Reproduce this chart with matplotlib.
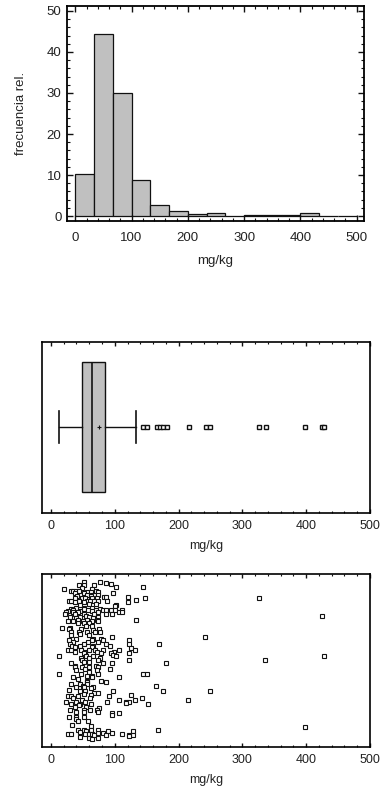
import numpy as np
import matplotlib.pyplot as plt
from matplotlib.ticker import MultipleLocator

plt.rcParams['font.family'] = ['Liberation Sans', 'DejaVu Sans']

# histogram: relative frequency (%) per bin, bins of 33.3 mg/kg from 0 to 500
bin_edges = np.linspace(0, 500, 16)
rel_freq = [10.3, 44.5, 30.1, 8.9, 2.7, 1.3, 0.4, 0.7, 0.0, 0.3, 0.3, 0.3, 0.7, 0.0, 0.0]

# box-and-whisker summary (mg/kg)
box_q1 = 48
box_median = 65
box_q3 = 84.6
box_mean = 76
whisker_low = 13
whisker_high = 133
outliers = [144.7, 150, 165.6, 170.8, 176, 181.3, 216, 242.4, 249, 326, 336.5, 398, 424, 428]

# scatter: rows of points (vertical jitter position, x values in mg/kg)
row_y = [96.5, 95.6, 95.0, 94.2, 93.4, 92.7, 91.9, 91.1, 90.3, 89.6, 88.8, 88.0, 87.3, 86.9,
         86.5, 85.7, 84.9, 84.2, 83.4, 82.6, 81.9, 81.1, 80.1, 79.5, 78.8, 78.2, 77.2, 76.3,
         75.7, 74.9, 73.7, 73.0, 71.8, 70.3, 69.1, 68.3, 67.6, 66.6, 65.6, 64.7, 63.7, 62.7,
         61.8, 60.8, 59.5, 58.3, 57.5, 56.9, 56.0, 55.0, 54.1, 53.1, 52.1, 51.2, 50.2, 49.0,
         47.9, 46.7, 45.9, 44.8, 44.0, 42.9, 41.5, 40.5, 39.6, 38.6, 37.6, 36.7, 35.7, 34.7,
         33.8, 33.2, 31.9, 31.3, 30.5, 29.9, 29.3, 28.6, 27.4, 26.1, 25.1, 24.5, 23.9, 23.2,
         22.2, 21.2, 20.3, 19.3, 18.3, 17.4, 16.0, 15.1, 13.5, 11.6, 10.6, 10.4, 8.7, 8.1,
         7.3, 6.8, 6.2, 5.4, 4.8, 4.2, 3.9, 3.5, 3.1]
row_x = [[52, 77], [86], [94], [44, 51, 68], [145, 102], [49], [20, 65], [31, 34, 40, 44, 70],
         [57, 62, 74], [97, 51, 38], [57, 64, 68, 73], [41, 62], [120, 83, 87], [147, 48, 72, 326],
         [37, 53, 65], [134], [29, 32, 44, 56, 61, 67, 74, 88], [120, 38, 52], [60, 71], [102, 45],
         [101], [39, 51, 64], [31, 52, 77], [35, 58, 71, 81, 87, 94, 101, 112], [27, 45, 64],
         [23, 34, 43, 74, 106, 112], [22, 37, 52, 67, 86, 95], [55, 424], [30, 46, 59, 73],
         [40, 66], [133, 43, 57, 72], [27, 34, 50, 64, 73], [42, 51, 59], [55, 65], [18, 30],
         [29, 47, 76], [66], [32, 44, 56, 69, 77], [46], [32, 60], [95, 241], [40, 66, 78],
         [29, 64, 81, 122], [34, 58, 73], [30, 51, 86, 123, 169], [33, 46, 66, 93], [38, 65],
         [125], [26, 32, 47, 59, 69, 82, 107, 132], [38, 53, 72, 99], [51, 78, 94, 123], [97],
         [12, 55, 66, 102, 428], [47, 59, 77], [48, 74, 123, 336], [60, 51], [32, 81, 95, 181],
         [37, 70], [38, 48, 60, 73], [53, 92], [40, 72], [59], [12, 47, 74, 144, 151], [57, 65],
         [35, 64, 106], [42], [56, 78], [57, 86], [32, 45, 56], [50, 164], [40, 51, 66], [63],
         [29], [45, 53, 98, 176, 249], [68, 73], [51], [63, 126], [27, 31, 43, 91], [35, 61, 143],
         [48, 106, 132, 215], [24, 40, 53, 88, 118, 122], [117], [32, 46, 62, 152], [44], [38, 55],
         [75], [30, 51, 61, 72], [40, 52, 74], [95, 106], [96], [29, 39, 51], [40], [42, 58], [33],
         [63], [398], [43, 51, 62, 74, 167], [55, 89, 128], [45], [74, 81, 95],
         [27, 32, 53, 59, 64, 112], [68, 87, 123, 129], [122], [45], [73], [59], [65]]

scatter_x = []
scatter_y = []
for y, xs in zip(row_y, row_x):
    for x in xs:
        scatter_x.append(x)
        scatter_y.append(y)

txt_color = "#222222"

fig = plt.figure(figsize=(3.82, 7.91), dpi=100)

# ---- histogram
ax1 = fig.add_axes([0.1754, 0.7206, 0.7775, 0.2718])
widths = np.diff(bin_edges)
ax1.bar(bin_edges[:-1], rel_freq, width=widths, align="edge",
        color="#c0c0c0", edgecolor="#111111", linewidth=0.9)
ax1.set_xlim(-14.7, 513)
ax1.set_ylim(-1.2, 51.2)
ax1.xaxis.set_major_locator(MultipleLocator(100))
ax1.xaxis.set_minor_locator(MultipleLocator(20))
ax1.yaxis.set_major_locator(MultipleLocator(10))
ax1.yaxis.set_minor_locator(MultipleLocator(2))
ax1.tick_params(which="both", direction="in", top=True, right=True, colors="#111111",
                labelcolor=txt_color, labelsize=9.5)
ax1.tick_params(which="major", length=4, width=1)
ax1.tick_params(which="minor", length=2, width=0.8)
ax1.tick_params(axis="x", pad=8)
ax1.tick_params(axis="y", pad=4)
ax1.set_xlabel("mg/kg", fontsize=9.5, color=txt_color, labelpad=8)
ax1.set_ylabel("frecuencia rel.", fontsize=9.5, color=txt_color, labelpad=14)
for s in ax1.spines.values():
    s.set_linewidth(1.3)

# ---- box-and-whisker
ax2 = fig.add_axes([0.1107, 0.3518, 0.8579, 0.2162])
stats = [dict(med=box_median, q1=box_q1, q3=box_q3, mean=box_mean,
              whislo=whisker_low, whishi=whisker_high, fliers=outliers)]
ax2.bxp(stats, positions=[0], widths=0.76, vert=False, showmeans=True, patch_artist=True,
        boxprops=dict(facecolor="#c0c0c0", edgecolor="#111111", linewidth=1),
        medianprops=dict(color="#111111", linewidth=1.2),
        whiskerprops=dict(color="#111111", linewidth=1),
        capprops=dict(color="#111111", linewidth=1.2),
        capwidths=0.19,
        meanprops=dict(marker="+", markeredgecolor="#111111", markersize=3, markeredgewidth=0.8),
        flierprops=dict(marker="s", markerfacecolor="white", markeredgecolor="#111111",
                        markersize=2.8, markeredgewidth=1.0))
ax2.set_ylim(-0.5, 0.5)
ax2.set_xlim(-13.6, 500)
ax2.set_yticks([])

# ---- scatter
ax3 = fig.add_axes([0.1107, 0.0560, 0.8579, 0.2183])
ax3.plot(scatter_x, scatter_y, linestyle="none", marker="s", markersize=2.8,
         markerfacecolor="white", markeredgecolor="#111111", markeredgewidth=0.8)
ax3.set_ylim(-1.5, 101)
ax3.set_xlim(-13.6, 500)
ax3.set_yticks([])

for ax in (ax2, ax3):
    ax.xaxis.set_major_locator(MultipleLocator(100))
    ax.xaxis.set_minor_locator(MultipleLocator(20))
    ax.tick_params(which="both", direction="in", top=True, colors="#111111",
                   labelcolor=txt_color, labelsize=9)
    ax.tick_params(which="major", length=3, width=1)
    ax.tick_params(which="minor", length=1.5, width=0.8)
    ax.tick_params(axis="x", pad=5)
    ax.set_xlabel("mg/kg", fontsize=9, color=txt_color, labelpad=6)
    for s in ax.spines.values():
        s.set_linewidth(1.2)

fig.savefig("out.png", dpi=100)
